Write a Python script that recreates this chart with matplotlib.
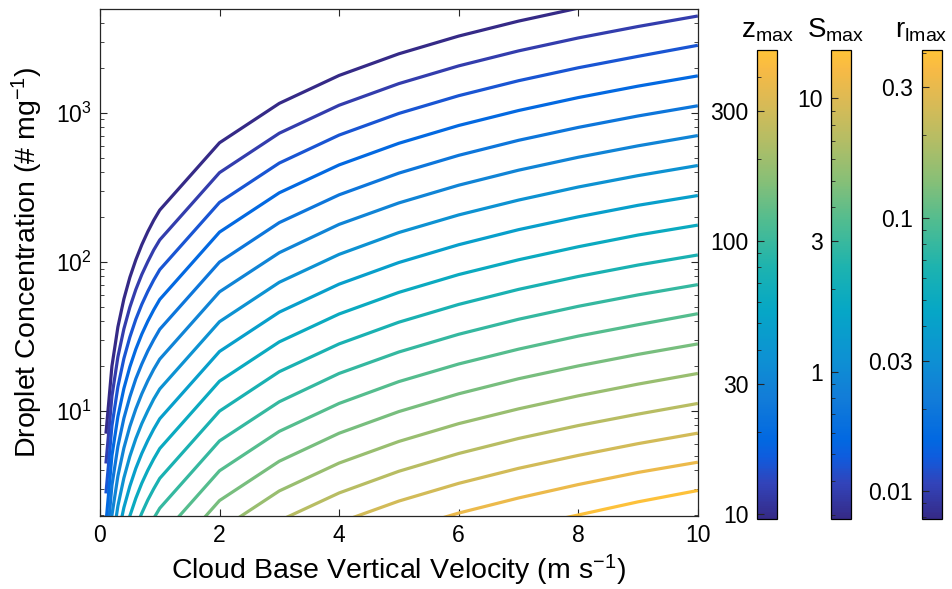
import numpy as np
import matplotlib
matplotlib.use("Agg")
import matplotlib.pyplot as plt
from matplotlib.colors import LinearSegmentedColormap, LogNorm
from matplotlib.cm import ScalarMappable
from matplotlib.ticker import LogLocator, NullFormatter, FixedLocator, FixedFormatter

# =============================================================================
# DATA
# =============================================================================
# cloud base vertical velocity (m s^-1) where each curve was sampled
w_grid = [0.1, 0.2, 0.3, 0.4, 0.5, 0.6, 0.7, 0.8, 0.9, 1, 2, 3, 4, 5, 6, 7, 8, 9, 10]

# one row per curve, top (dark) to bottom (yellow): droplet conc. (# mg^-1)
conc = [
    [7.02, 19.9, 36.5, 56.2, 78.5, 103, 130, 159, 190, 222, 628, 1154, 1776, 2482, 3263, 4111, 5023, 5994, 7020],
    [4.43, 12.5, 23.0, 35.4, 49.5, 65.1, 82.1, 100, 120, 140, 396, 728, 1121, 1566, 2059, 2595, 3170, 3783, 4450],
    [2.79, 7.90, 14.5, 22.4, 31.2, 41.1, 51.8, 63.2, 75.5, 88.4, 250, 459, 707, 988, 1299, 1637, 2000, 2386, 2830],
    [1.76, 4.99, 9.16, 14.1, 19.7, 25.9, 32.7, 39.9, 47.6, 55.8, 158, 290, 446, 623, 820, 1033, 1262, 1506, 1765],
    [1.11, 3.15, 5.78, 8.90, 12.4, 16.4, 20.6, 25.2, 30.0, 35.2, 99.5, 183, 281, 393, 517, 652, 796, 950, 1112],
    [0.702, 1.99, 3.65, 5.62, 7.85, 10.3, 13.0, 15.9, 19.0, 22.2, 62.8, 115, 178, 248, 326, 411, 502, 599, 702],
    [0.443, 1.25, 2.30, 3.54, 4.95, 6.51, 8.21, 10.0, 12.0, 14.0, 39.6, 72.8, 112, 157, 206, 259, 317, 378, 442],
    [0.279, 0.790, 1.45, 2.24, 3.12, 4.11, 5.18, 6.32, 7.55, 8.84, 25.0, 45.9, 70.7, 98.8, 130, 164, 200, 239, 278],
    [0.176, 0.499, 0.916, 1.41, 1.97, 2.59, 3.27, 3.99, 4.76, 5.58, 15.8, 29.0, 44.6, 62.3, 82.0, 103, 126, 151, 176],
    [0.111, 0.315, 0.578, 0.890, 1.24, 1.64, 2.06, 2.52, 3.00, 3.52, 9.95, 18.3, 28.1, 39.3, 51.7, 65.2, 79.6, 95.0, 111],
    [0.0702, 0.199, 0.365, 0.562, 0.785, 1.03, 1.30, 1.59, 1.90, 2.22, 6.28, 11.5, 17.8, 24.8, 32.6, 41.1, 50.2, 59.9, 70.2],
    [0.0443, 0.125, 0.230, 0.354, 0.495, 0.651, 0.821, 1.00, 1.20, 1.40, 3.96, 7.28, 11.2, 15.7, 20.6, 25.9, 31.7, 37.8, 44.8],
    [0.0279, 0.0790, 0.145, 0.224, 0.312, 0.411, 0.518, 0.632, 0.755, 0.884, 2.50, 4.59, 7.07, 9.88, 13.0, 16.4, 20.0, 23.9, 28.1],
    [0.0176, 0.0499, 0.0916, 0.141, 0.197, 0.259, 0.327, 0.399, 0.476, 0.558, 1.58, 2.90, 4.46, 6.23, 8.20, 10.3, 12.6, 15.1, 17.8],
    [0.0111, 0.0315, 0.0578, 0.0890, 0.124, 0.164, 0.206, 0.252, 0.300, 0.352, 0.995, 1.83, 2.81, 3.93, 5.17, 6.52, 7.96, 9.50, 11.2],
    [0.00702, 0.0199, 0.0365, 0.0562, 0.0785, 0.103, 0.130, 0.159, 0.190, 0.222, 0.628, 1.15, 1.78, 2.48, 3.26, 4.11, 5.02, 6.02, 7.08],
    [0.00443, 0.0125, 0.0230, 0.0354, 0.0495, 0.0651, 0.0821, 0.100, 0.120, 0.140, 0.396, 0.728, 1.12, 1.57, 2.06, 2.60, 3.20, 3.86, 4.52],
    [0.00279, 0.00790, 0.0145, 0.0224, 0.0312, 0.0411, 0.0518, 0.0632, 0.0755, 0.0884, 0.250, 0.459, 0.707, 0.988, 1.30, 1.64, 2.00, 2.45, 2.92],
]

# z_max level of each curve (sets its colour)
z_levels = [9.6, 12.1, 15.2, 19.1, 24.1, 30.3, 38.2, 48.1, 60.5, 76.2,
            95.9, 121, 152, 191, 241, 303, 382, 481]

# colorbar ranges and ticks
zmax_lim = [9.6, 500]
zmax_ticks = [10, 30, 100, 300]
zmax_labels = ["10", "30", "100", "300"]
smax_lim = [0.29, 15.0]
smax_ticks = [1, 3, 10]
smax_labels = ["1", "3", "10"]
rmax_lim = [0.0079, 0.41]
rmax_ticks = [0.01, 0.03, 0.1, 0.3]
rmax_labels = ["0.01", "0.03", "0.1", "0.3"]

x_ticks = [0, 2, 4, 6, 8, 10]

# parula-like colormap (dark blue -> orange-yellow)
parula_cols = [
    (0.2081, 0.1663, 0.5292), (0.1959, 0.2645, 0.7279), (0.0591, 0.3598, 0.8683),
    (0.0060, 0.4086, 0.8828), (0.0723, 0.4887, 0.8467), (0.0488, 0.5772, 0.8228),
    (0.0228, 0.6535, 0.7768), (0.1133, 0.7015, 0.6859), (0.3022, 0.7376, 0.5712),
    (0.5300, 0.7491, 0.4661), (0.7184, 0.7411, 0.3905), (0.8824, 0.7274, 0.3217),
    (0.9739, 0.7314, 0.2666), (0.9990, 0.7653, 0.2164),
]
parula_pos = [0, 0.074, 0.130, 0.167, 0.259, 0.352, 0.444, 0.537, 0.630,
              0.722, 0.815, 0.907, 0.963, 1.0]

# =============================================================================
# STYLE
# =============================================================================
plt.rcParams['font.family'] = ['Liberation Sans', 'DejaVu Sans']
plt.rcParams['mathtext.fontset'] = 'custom'
plt.rcParams['mathtext.rm'] = 'Liberation Sans'
plt.rcParams['mathtext.it'] = 'Liberation Sans:italic'
plt.rcParams['axes.linewidth'] = 0.9
dark = '#262626'

cmap = LinearSegmentedColormap.from_list("parula_cut", list(zip(parula_pos, parula_cols)))

fig = plt.figure(figsize=(9.52, 5.89), dpi=100)

# =============================================================================
# MAIN AXES
# =============================================================================
ax = fig.add_axes([0.105, 0.124, 0.628, 0.861])
znorm = LogNorm(vmin=zmax_lim[0], vmax=zmax_lim[1])
for row, z in zip(conc, z_levels):
    ax.plot(w_grid, row, color=cmap(znorm(z)), lw=2.3, solid_capstyle='butt')

ax.set_yscale('log')
ax.set_xlim(0, 10)
ax.set_ylim(1.97, 4970)
ax.set_xticks(x_ticks)
ax.tick_params(which='both', direction='in', top=True, right=True,
               colors=dark, labelsize=16.5, labelcolor='black')
ax.tick_params(which='major', length=5, pad=6)
ax.tick_params(which='minor', length=3)
for sp in ax.spines.values():
    sp.set_color(dark)
ax.set_xlabel("Cloud Base Vertical Velocity (m s$^{-1}$)", fontsize=20.5, labelpad=4)
ax.set_ylabel("Droplet Concentration (# mg$^{-1}$)", fontsize=20.5, labelpad=8)

# =============================================================================
# COLORBARS
# =============================================================================
def add_cbar(left, lim, ticks, labels, title, title_x):
    cax = fig.add_axes([left, 0.119, 0.021, 0.796])
    sm = ScalarMappable(norm=LogNorm(vmin=lim[0], vmax=lim[1]), cmap=cmap)
    cb = fig.colorbar(sm, cax=cax)
    cb.outline.set_edgecolor('black')
    cb.outline.set_linewidth(0.9)
    cax.yaxis.set_ticks_position('left')
    cax.yaxis.set_label_position('left')
    cax.yaxis.set_major_locator(FixedLocator(ticks))
    cax.yaxis.set_major_formatter(FixedFormatter(labels))
    cax.yaxis.set_minor_locator(LogLocator(base=10, subs=np.arange(2, 10)))
    cax.yaxis.set_minor_formatter(NullFormatter())
    cax.tick_params(which='both', direction='in', colors=dark, labelcolor='black',
                    labelsize=16.5)
    cax.tick_params(which='major', length=5, pad=6)
    cax.tick_params(which='minor', length=3)
    fig.text(title_x, 0.925, title, fontsize=20, ha='center', va='bottom')
    return cb

add_cbar(0.795, zmax_lim, zmax_ticks, zmax_labels, r"z$_{\mathregular{max}}$", 0.806)
add_cbar(0.873, smax_lim, smax_ticks, smax_labels, r"S$_{\mathregular{max}}$", 0.878)
add_cbar(0.968, rmax_lim, rmax_ticks, rmax_labels, r"r$_{\mathregular{lmax}}$", 0.968)

fig.savefig("out.png", dpi=100)
